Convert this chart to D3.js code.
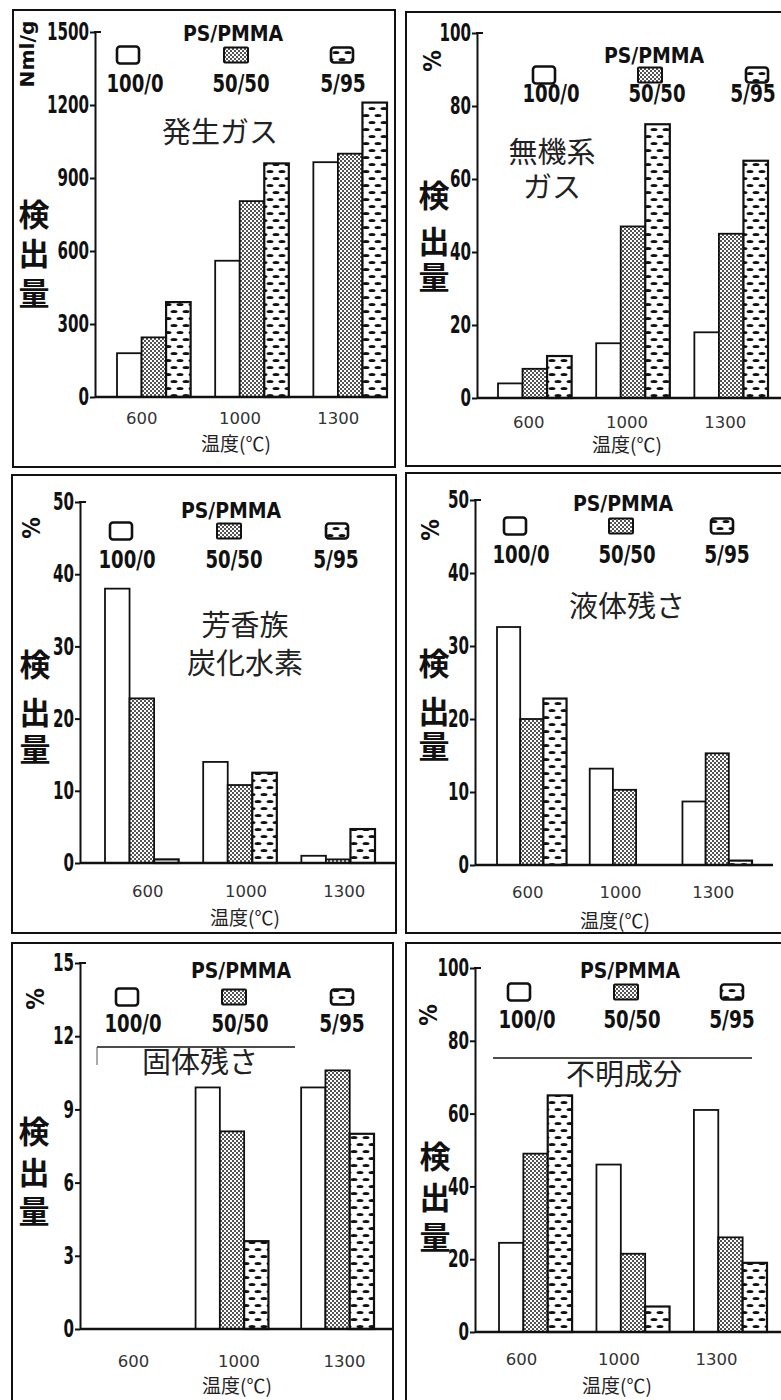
<!DOCTYPE html>
<html><head><meta charset="utf-8">
<script src="https://cdn.jsdelivr.net/npm/d3@7"></script>
<style>
html,body{margin:0;padding:0;background:#fff;}
svg{display:block;}
</style></head>
<body>
<svg id="chart" width="781" height="1400"></svg>
<script>
// ---------------- DATA ----------------
const temps = ["600", "1000", "1300"];
const ratios = ["100/0", "50/50", "5/95"];
const legendTitle = "PS/PMMA";
const xAxisTitle = "温度(℃)";
const yAxisTitle = ["検", "出", "量"];

// rows = series (ratios order), cols = temperatures
const totalGas      = [[180, 560, 965], [245, 805, 1000], [390, 960, 1210]];
const inorganicGas  = [[4, 15, 18], [8, 47, 45], [11.5, 75, 65]];
const aromaticHC    = [[38, 14, 1.0], [22.8, 10.8, 0.5], [0.5, 12.5, 4.7]];
const liquidResidue = [[32.6, 13.2, 8.7], [20, 10.3, 15.3], [22.8, 0, 0.6]];
const solidResidue  = [[0, 9.9, 9.9], [0, 8.1, 10.6], [0, 3.6, 8.0]];
const unknownComp   = [[24.5, 46, 61], [49, 21.5, 26], [65, 7, 19]];

const ticksGas       = [0, 300, 600, 900, 1200, 1500];
const ticksInorganic = [0, 20, 40, 60, 80, 100];
const ticksAromatic  = [0, 10, 20, 30, 40, 50];
const ticksLiquid    = [0, 10, 20, 30, 40, 50];
const ticksSolid     = [0, 3, 6, 9, 12, 15];
const ticksUnknown   = [0, 20, 40, 60, 80, 100];

const titleGas       = ["発生ガス"];
const titleInorganic = ["無機系", "ガス"];
const titleAromatic  = ["芳香族", "炭化水素"];
const titleLiquid    = ["液体残さ"];
const titleSolid     = ["固体残さ"];
const titleUnknown   = ["不明成分"];

const unitGas = "Nml/g";
const unitPct = "%";

// ---------------- LAYOUT ----------------
const panels = [
  {values: totalGas, ticks: ticksGas, title: titleGas, unit: unitGas,
   box: [13, 10, 395, 467], axisX: 95, y0: 397, yTop: 32, gx: [117, 387], pad: 0.25, baseEnd: 388,
   xlabOff: -12, xlabY: 418, xtitle: [236, 444],
   ylab: [34, 215, 254, 294], unitPos: [27, 54], unitSize: 20, unitLen: 67,
   leg: {t: [233, 33], items: [135, 241, 343], sqOff: [-7, -5, -1], sqY: 55, labY: 92},
   titlePos: [220, 133], titleGap: 36},
  {values: inorganicGas, ticks: ticksInorganic, title: titleInorganic, unit: unitPct,
   box: [406, 12, 800, 466], axisX: 477, y0: 398, yTop: 33, gx: [498, 768], pad: 0.25, baseEnd: 800,
   xlabOff: -6, xlabY: 422, xtitle: [627, 445],
   ylab: [434, 196, 242, 278], unitPos: [432, 61], unitSize: 24,
   leg: {t: [654, 55], items: [551, 657, 753], sqOff: [-7, -7, 4], sqY: 75, labY: 102},
   titlePos: [552, 153], titleGap: 35},
  {values: aromaticHC, ticks: ticksAromatic, title: titleAromatic, unit: unitPct,
   box: [12, 475, 396, 933], axisX: 80, y0: 863, yTop: 502, gx: [105, 375], pad: 0.25, baseEnd: 396,
   xlabOff: 6, xlabY: 891, xtitle: [245, 918],
   ylab: [35, 665, 713, 750], unitPos: [31, 528], unitSize: 24,
   leg: {t: [231, 510], items: [127, 234, 336], sqOff: [-6, -5, 1], sqY: 531, labY: 568},
   titlePos: [245, 626], titleGap: 38},
  {values: liquidResidue, ticks: ticksLiquid, title: titleLiquid, unit: unitPct,
   box: [406, 473, 800, 933], axisX: 475, y0: 865, yTop: 500, gx: [497, 752], pad: 0.25, baseEnd: 773,
   xlabOff: -4, xlabY: 892, xtitle: [615, 921],
   ylab: [434, 664, 712, 747], unitPos: [430, 530], unitSize: 24,
   leg: {t: [623, 503], items: [521, 627, 727], sqOff: [-6, -6, -5], sqY: 526, labY: 563},
   titlePos: [627, 607], titleGap: 36},
  {values: solidResidue, ticks: ticksSolid, title: titleSolid, unit: unitPct,
   box: [12, 943, 393, 1420], axisX: 80, y0: 1329, yTop: 963, gx: [90, 374], pad: 0.31, baseEnd: 393,
   xlabOff: 7, xlabY: 1361, xtitle: [237, 1386],
   ylab: [34, 1132, 1173, 1212], unitPos: [35, 999], unitSize: 24,
   leg: {t: [241, 970], items: [133, 240, 342], sqOff: [-6, -6, 0], sqY: 997, labY: 1032},
   titlePos: [200, 1063], titleGap: 36, rule: [97, 295, 1047, 18]},
  {values: unknownComp, ticks: ticksUnknown, title: titleUnknown, unit: unitPct,
   box: [406, 943, 800, 1420], axisX: 475, y0: 1332, yTop: 968, gx: [499, 767], pad: 0.25, baseEnd: 800,
   xlabOff: -14, xlabY: 1359, xtitle: [617, 1386],
   ylab: [435, 1157, 1198, 1238], unitPos: [428, 1015], unitSize: 24,
   leg: {t: [630, 970], items: [527, 632, 732], sqOff: [-8, -6, 0], sqY: 992, labY: 1028},
   titlePos: [624, 1075], titleGap: 36, rule: [493, 752, 1058, 0]}
];

const narrow = "'DejaVu Sans Condensed','DejaVu Sans',sans-serif";
const cjk = "'Noto Sans CJK JP','Noto Sans CJK SC',sans-serif";
const plain = "'DejaVu Sans','Noto Sans',sans-serif";
const tickCharW = 10.5, legCharW = 11.4;

const svg = d3.select("#chart");
const defs = svg.append("defs");

// stipple (50/50)
const pStip = defs.append("pattern").attr("id", "stip").attr("patternUnits", "userSpaceOnUse")
  .attr("width", 4).attr("height", 4);
pStip.append("rect").attr("width", 4).attr("height", 4).attr("fill", "#fff");
pStip.append("circle").attr("cx", 1).attr("cy", 1).attr("r", 1.0).attr("fill", "#1a1a1a");
pStip.append("circle").attr("cx", 3).attr("cy", 3).attr("r", 1.0).attr("fill", "#1a1a1a");

// dashes (5/95)
const pDash = defs.append("pattern").attr("id", "dash").attr("patternUnits", "userSpaceOnUse")
  .attr("width", 12).attr("height", 14);
pDash.append("rect").attr("width", 12).attr("height", 14).attr("fill", "#fff");
pDash.append("ellipse").attr("cx", 6).attr("cy", 3.5).attr("rx", 3.5).attr("ry", 1.6).attr("fill", "#111");
pDash.append("ellipse").attr("cx", 0).attr("cy", 10.5).attr("rx", 3.5).attr("ry", 1.6).attr("fill", "#111");
pDash.append("ellipse").attr("cx", 12).attr("cy", 10.5).attr("rx", 3.5).attr("ry", 1.6).attr("fill", "#111");

const fills = {"100/0": "#fff", "50/50": "url(#stip)", "5/95": "url(#dash)"};
const fmt = d3.format("d");

panels.forEach((P) => {
  const g = svg.append("g");
  const [bx0, by0, bx1, by1] = P.box;
  g.append("rect").attr("x", bx0).attr("y", by0).attr("width", bx1 - bx0).attr("height", by1 - by0)
    .attr("fill", "none").attr("stroke", "#111").attr("stroke-width", 2);

  const maxV = P.ticks[P.ticks.length - 1];
  const y = d3.scaleLinear().domain([0, maxV]).range([P.y0, P.yTop]);
  const xg = d3.scaleBand().domain(temps).range(P.gx).paddingInner(P.pad).paddingOuter(0);
  const xs = d3.scaleBand().domain(ratios).range([0, xg.bandwidth()]).padding(0);

  // bars
  const rows = [];
  ratios.forEach((r, ri) => temps.forEach((t, ti) => rows.push({r, t, v: P.values[ri][ti]})));
  g.selectAll("rect.bar").data(rows.filter(d => d.v > 0)).join("rect").attr("class", "bar")
    .attr("x", d => xg(d.t) + xs(d.r))
    .attr("y", d => y(d.v))
    .attr("width", xs.bandwidth())
    .attr("height", d => y(0) - y(d.v))
    .attr("fill", d => fills[d.r])
    .attr("stroke", "#111").attr("stroke-width", d => d.r === "5/95" ? 2.2 : 1.8);

  // y axis
  const ya = d3.axisLeft(y).tickValues(P.ticks).tickSize(5).tickSizeOuter(0).tickPadding(1)
    .tickFormat(fmt);
  const yg = g.append("g").attr("transform", `translate(${P.axisX},0)`).call(ya);
  yg.select(".domain").attr("stroke", "#111").attr("stroke-width", 2);
  yg.selectAll(".tick line").attr("stroke", "#111").attr("stroke-width", 2);
  yg.selectAll(".tick text").attr("font-family", narrow).attr("font-weight", "bold")
    .attr("font-size", 24).attr("fill", "#111")
    .attr("textLength", d => fmt(d).length * tickCharW).attr("lengthAdjust", "spacingAndGlyphs");
  // top cap
  g.append("line").attr("x1", P.axisX - 1).attr("x2", P.axisX + 6)
    .attr("y1", y(maxV)).attr("y2", y(maxV)).attr("stroke", "#111").attr("stroke-width", 2);

  // baseline
  g.append("line").attr("x1", P.axisX).attr("x2", P.baseEnd).attr("y1", y(0)).attr("y2", y(0))
    .attr("stroke", "#111").attr("stroke-width", 2.6);

  // x tick labels
  const xa = d3.axisBottom(xg).tickSize(0).tickPadding(0);
  const xgG = g.append("g").attr("transform", `translate(${P.xlabOff},${P.xlabY})`).call(xa);
  xgG.select(".domain").remove();
  xgG.selectAll(".tick text").attr("font-family", plain).attr("font-size", 16.5)
    .attr("fill", "#333").attr("dy", "0.35em");

  // x title
  g.append("text").attr("x", P.xtitle[0]).attr("y", P.xtitle[1]).attr("text-anchor", "middle")
    .attr("dy", "0.35em").attr("font-family", cjk).attr("font-size", 19).attr("fill", "#222")
    .text(xAxisTitle);

  // y title (vertical)
  yAxisTitle.forEach((ch, i) => {
    g.append("text").attr("x", P.ylab[0]).attr("y", P.ylab[i + 1]).attr("text-anchor", "middle")
      .attr("dy", "0.36em").attr("font-family", cjk).attr("font-weight", "bold")
      .attr("font-size", 31).attr("fill", "#111").text(ch);
  });

  // unit
  const ut = g.append("text").attr("transform", `translate(${P.unitPos[0]},${P.unitPos[1]}) rotate(-90)`)
    .attr("text-anchor", "middle").attr("dy", "0.36em").attr("font-family", narrow)
    .attr("font-weight", "bold").attr("font-size", P.unitSize).attr("fill", "#111").text(P.unit);
  if (P.unitLen) ut.attr("textLength", P.unitLen).attr("lengthAdjust", "spacingAndGlyphs");

  // legend
  g.append("text").attr("x", P.leg.t[0]).attr("y", P.leg.t[1]).attr("text-anchor", "middle")
    .attr("dy", "0.36em").attr("font-family", narrow)
    .attr("font-weight", "bold").attr("font-size", 21)
    .attr("textLength", 100).attr("lengthAdjust", "spacing")
    .attr("fill", "#111").text(legendTitle);
  ratios.forEach((r, i) => {
    const cx = P.leg.items[i];
    const sx = cx + P.leg.sqOff[i];
    const w = i === 1 ? 24 : 22, h = i === 0 ? 17 : 15;
    g.append("rect").attr("x", sx - w / 2).attr("y", P.leg.sqY - h / 2).attr("width", w).attr("height", h)
      .attr("rx", i === 1 ? 1 : 3).attr("fill", fills[r]).attr("stroke", "#111")
      .attr("stroke-width", i === 1 ? 2 : 2.6);
    g.append("text").attr("x", cx).attr("y", P.leg.labY).attr("text-anchor", "middle")
      .attr("font-family", narrow).attr("font-weight", "bold").attr("font-size", 24)
      .attr("textLength", r.length * legCharW).attr("lengthAdjust", "spacingAndGlyphs")
      .attr("fill", "#111").text(r);
  });

  // panel title
  P.title.forEach((line, i) => {
    g.append("text").attr("x", P.titlePos[0]).attr("y", P.titlePos[1] + i * P.titleGap)
      .attr("text-anchor", "middle").attr("dy", "0.36em").attr("font-family", cjk)
      .attr("font-size", 29).attr("fill", "#222").text(line);
  });
  if (P.rule) {
    g.append("line").attr("x1", P.rule[0]).attr("x2", P.rule[1]).attr("y1", P.rule[2]).attr("y2", P.rule[2])
      .attr("stroke", "#111").attr("stroke-width", 1.6);
    if (P.rule[3] > 0) {
      g.append("line").attr("x1", P.rule[0]).attr("x2", P.rule[0]).attr("y1", P.rule[2])
        .attr("y2", P.rule[2] + P.rule[3]).attr("stroke", "#555").attr("stroke-width", 1);
    }
  }
});
</script>
</body></html>
